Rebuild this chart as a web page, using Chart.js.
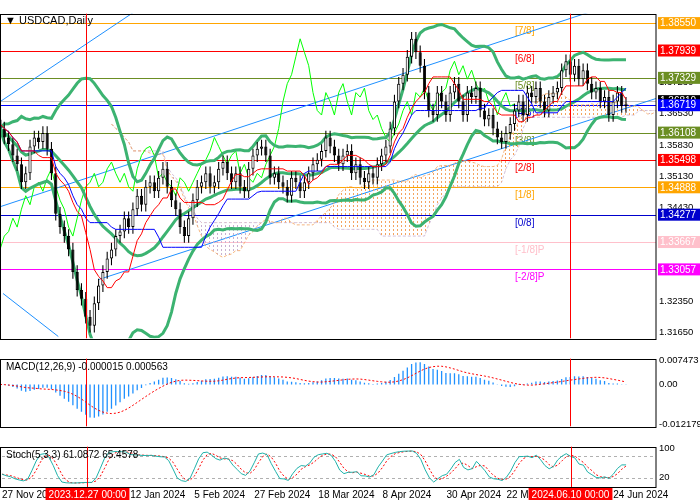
<!DOCTYPE html>
<html><head><meta charset="utf-8">
<script src="https://cdn.jsdelivr.net/npm/chart.js@4"></script>
<style>
body{margin:0;background:#fff;width:700px;height:500px;overflow:hidden;font-family:"Liberation Sans",Arial,sans-serif}
.p{position:absolute;left:0;width:700px}
</style></head><body>
<div class="p" style="top:5px;height:342px"><canvas id="main"></canvas></div>
<div class="p" style="top:350px;height:85px"><canvas id="macd"></canvas></div>
<div class="p" style="top:438px;height:62px"><canvas id="stoch"></canvas></div>
<script>
const closes=[1.3620,1.3600,1.3585,1.3560,1.3540,1.3500,1.3520,1.3580,1.3600,1.3590,
1.3610,1.3575,1.3520,1.3430,1.3400,1.3380,1.3350,1.3300,1.3260,1.3240,
1.3200,1.3180,1.3230,1.3270,1.3300,1.3330,1.3350,1.3380,1.3390,1.3420,
1.3400,1.3440,1.3470,1.3450,1.3490,1.3500,1.3480,1.3510,1.3530,1.3490,
1.3460,1.3440,1.3400,1.3380,1.3420,1.3460,1.3490,1.3500,1.3520,1.3490,
1.3500,1.3530,1.3545,1.3520,1.3500,1.3520,1.3490,1.3480,1.3530,1.3560,
1.3575,1.3580,1.3560,1.3510,1.3520,1.3500,1.3490,1.3470,1.3510,1.3500,
1.3480,1.3500,1.3520,1.3540,1.3550,1.3570,1.3600,1.3580,1.3560,1.3540,
1.3560,1.3570,1.3520,1.3540,1.3510,1.3500,1.3520,1.3510,1.3540,1.3560,
1.3580,1.3620,1.3680,1.3720,1.3740,1.3780,1.3820,1.3790,1.3760,1.3700,
1.3660,1.3650,1.3700,1.3680,1.3650,1.3700,1.3720,1.3680,1.3650,1.3700,
1.3690,1.3710,1.3660,1.3640,1.3650,1.3620,1.3600,1.3590,1.3610,1.3630,
1.3660,1.3680,1.3650,1.3700,1.3690,1.3710,1.3680,1.3660,1.3690,1.3700,
1.3710,1.3750,1.3770,1.3740,1.3760,1.3730,1.3750,1.3720,1.3700,1.3710,
1.3680,1.3690,1.3650,1.3680,1.3700,1.3670,1.3675];
const firstOpen=1.3640;
const wickPad=0.0015;
const totalSlots=154;
const levels=[1.38550,1.37939,1.37329,1.36719,1.36108,1.35498,1.34888,1.34277,1.33667,1.33057];
const levelNames=['[7/8]','[6/8]','[5/8]','[4/8]','[3/8]','[2/8]','[1/8]','[0/8]','[-1/8]P','[-2/8]P'];
const levelColors=['#FFA500','#FF0000','#6B8E23','#0000FF','#6B8E23','#FF0000','#FFA500','#0000CD','#FFC0CB','#FF00FF'];
const currentPrice=1.36810;
const priceTicks=[1.3165,1.3235,1.3443,1.3513,1.3583,1.3653,1.3723];
const trendLines=[[0.2,1.3681,31.3,1.3880],[0.2,1.3446,137.6,1.3880],[23,1.3283,154,1.3690],[0.7,1.3252,13.6,1.3156]];
const vLines=[20,133];
const tickIdx=[0,30,45,59,74,89,104,118,143];
const tickText=['27 Nov 2023','12 Jan 2024','5 Feb 2024','27 Feb 2024','18 Mar 2024','8 Apr 2024','30 Apr 2024','22 May 2024','24 Jun 2024'];
const hlIdx=[20,133];
const hlText=['2023.12.27 00:00','2024.06.10 00:00'];
const macdRange=[-0.012179,0.007473];

const N=closes.length;
const opens=closes.map((c,i)=>i?closes[i-1]:firstOpen);
const highs=closes.map((c,i)=>Math.max(c,opens[i])+wickPad);
const lows=closes.map((c,i)=>Math.min(c,opens[i])-wickPad);
const labels=Array.from({length:totalSlots},(_,i)=>String(i));
function hh(a,i,n){let m=-1e9;for(let k=Math.max(0,i-n+1);k<=i;k++)m=Math.max(m,a[k]);return m}
function ll(a,i,n){let m=1e9;for(let k=Math.max(0,i-n+1);k<=i;k++)m=Math.min(m,a[k]);return m}
function sma(a,n){return a.map((v,i)=>{if(v==null)return null;let s=0,c=0;for(let k=Math.max(0,i-n+1);k<=i;k++){if(a[k]!=null){s+=a[k];c++}}return s/c})}
function ema(a,n){const k=2/(n+1);let e=a[0];return a.map(v=>e=e+(v-e)*k)}
const mid=sma(closes,20);
const sd=closes.map((v,i)=>{const s=Math.max(0,i-19);const sl=closes.slice(s,i+1);const m=mid[i];return Math.sqrt(sl.reduce((a,b)=>a+(b-m)**2,0)/sl.length)});
const bbU=mid.map((m,i)=>m+2*sd[i]),bbL=mid.map((m,i)=>m-2*sd[i]);
const tenkan=closes.map((c,i)=>(hh(highs,i,9)+ll(lows,i,9))/2);
const kijun=closes.map((c,i)=>(hh(highs,i,26)+ll(lows,i,26))/2);
const spanA=new Array(totalSlots).fill(null),spanB=new Array(totalSlots).fill(null);
for(let i=0;i<N;i++){if(i+26<totalSlots){spanA[i+26]=(tenkan[i]+kijun[i])/2;spanB[i+26]=(hh(highs,i,52)+ll(lows,i,52))/2}}
const chikou=new Array(totalSlots).fill(null);for(let i=26;i<N;i++)chikou[i-26]=closes[i];
const e12=ema(closes,12),e26=ema(closes,26);
const macd=closes.map((c,i)=>e12[i]-e26[i]);const sig=sma(macd,9);
const kRaw=closes.map((c,i)=>{const H=hh(highs,i,5),L=ll(lows,i,5);return (c-L)/(H-L)*100});
const kS=sma(kRaw,3),dS=sma(kS,3);

function pattern(col){const c=document.createElement('canvas');c.width=4;c.height=4;const x=c.getContext('2d');x.fillStyle=col;x.fillRect(1,0,1,2);return x.createPattern(c,'repeat')}
const FONT='"Liberation Sans",Arial,sans-serif';
Chart.defaults.font.family=FONT;Chart.defaults.font.size=10;Chart.defaults.color='#000';
Chart.defaults.animation=false;
const AXW=44;
function xScale(show){return {type:'category',offset:false,min:0,max:totalSlots-1,display:show,grid:{display:false,drawTicks:false},
 afterFit:s=>{if(show)s.height=13},
 ticks:{autoSkip:false,maxRotation:0,align:'start',padding:2,font:{size:10},callback:(v,i)=>{const k=tickIdx.indexOf(i);return k>=0?tickText[k]:''}},border:{display:false}}}
function yScale(min,max,tickVals,fmt){return {position:'right',min,max,grid:{display:false,drawTicks:false},border:{display:false},
 afterFit:s=>{s.width=AXW},afterBuildTicks:s=>{s.ticks=tickVals.map(v=>({value:v}))},
 ticks:{font:{size:9.5},padding:3,callback:fmt}}}
const frame={id:'frame',afterDraw(ch){const a=ch.chartArea,c=ch.ctx;c.save();c.strokeStyle='#000';c.lineWidth=1;
 c.strokeRect(0.5,Math.round(a.top)+0.5,Math.round(a.right)-0.5,Math.round(a.bottom-a.top));
 c.strokeStyle='#ff0000';vLines.forEach(v=>{const x=Math.round(ch.scales.x.getPixelForValue(v))+0.5;c.beginPath();c.moveTo(x,a.top);c.lineTo(x,a.bottom);c.stroke()});c.restore()}};

const mainPlug={id:'mp',beforeDatasetsDraw(ch){const a=ch.chartArea,c=ch.ctx,y=ch.scales.y,x=ch.scales.x;c.save();c.lineWidth=1;
 c.strokeStyle='#c0c0c0';let py=Math.round(y.getPixelForValue(currentPrice))+0.5;c.beginPath();c.moveTo(a.left,py);c.lineTo(a.right,py);c.stroke();
 levels.forEach((l,i)=>{const p=Math.round(y.getPixelForValue(l))+0.5;c.strokeStyle=levelColors[i];c.beginPath();c.moveTo(a.left,p);c.lineTo(a.right,p);c.stroke();
  c.fillStyle=levelColors[i];c.font='10px '+FONT;c.textBaseline='top';c.fillText(levelNames[i],515,p+3)});
 c.beginPath();c.rect(a.left,a.top,a.right-a.left,a.bottom-a.top);c.clip();
 c.strokeStyle='#1E90FF';trendLines.forEach(t=>{c.beginPath();c.moveTo(x.getPixelForValue(t[0]),y.getPixelForValue(t[1]));c.lineTo(x.getPixelForValue(t[2]),y.getPixelForValue(t[3]));c.stroke()});
 c.restore()},
 afterDraw(ch){const c=ch.ctx,y=ch.scales.y,a=ch.chartArea;c.save();c.font='10px '+FONT;c.textBaseline='middle';
  const box=(v,bg,fg)=>{const p=y.getPixelForValue(v);c.fillStyle=bg;c.fillRect(a.right+2,p-6,AXW-2,12);c.fillStyle=fg;c.fillText(v.toFixed(5),a.right+4,p+0.5)};
  box(currentPrice,'#000','#fff');
  levels.forEach((l,i)=>box(l,levelColors[i],'#fff'));
  c.fillStyle='#000';c.font='11px '+FONT;c.fillText('\u25BC USDCAD,Daily',5,a.top+7);c.restore()}};

const candleCol=closes.map((c,i)=>c>=opens[i]?'#ffffff':'#000000');
new Chart(document.getElementById('main'),{data:{labels,datasets:[
 {type:'line',data:spanA,borderColor:'rgba(244,164,96,0.8)',borderWidth:1,borderDash:[3,2],pointRadius:0,fill:{target:'+1',above:pattern('#F4A460'),below:pattern('#C8B0D0')},order:10},
 {type:'line',data:spanB,borderColor:'rgba(200,176,208,0.8)',borderWidth:1,borderDash:[3,2],pointRadius:0,order:10},
 {type:'line',data:chikou,borderColor:'#00FF00',borderWidth:1,pointRadius:0,order:7},
 {type:'line',data:bbU,borderColor:'#3CB371',borderWidth:3,pointRadius:0,order:6},
 {type:'line',data:bbL,borderColor:'#3CB371',borderWidth:3,pointRadius:0,order:6},
 {type:'line',data:mid,borderColor:'#3CB371',borderWidth:3,pointRadius:0,order:6},
 {type:'bar',data:closes.map((c,i)=>[lows[i],highs[i]]),backgroundColor:'#000',barPercentage:0.25,categoryPercentage:1,grouped:false,order:4},
 {type:'bar',data:closes.map((c,i)=>[opens[i],c]),backgroundColor:candleCol,borderColor:'#000',borderWidth:1,borderSkipped:false,barPercentage:0.75,categoryPercentage:1,grouped:false,order:3,minBarLength:1},
 {type:'line',data:tenkan,borderColor:'#FF0000',borderWidth:1,pointRadius:0,order:2},
 {type:'line',data:kijun,borderColor:'#0000FF',borderWidth:1,pointRadius:0,order:2}
]},options:{responsive:true,maintainAspectRatio:false,layout:{padding:0},plugins:{legend:{display:false},tooltip:{enabled:false}},
 scales:{x:xScale(false),y:yScale(1.3152,1.3876,priceTicks,v=>v.toFixed(5))}},plugins:[mainPlug,frame]});

const txtPlug=t=>({id:'t',afterDraw(ch){const c=ch.ctx;c.save();c.font='10px '+FONT;c.fillStyle='#000';c.textBaseline='top';c.fillText(t,6,ch.chartArea.top+4);c.restore()}});
new Chart(document.getElementById('macd'),{data:{labels,datasets:[
 {type:'line',data:sig,borderColor:'#FF0000',borderWidth:1,borderDash:[2,2],pointRadius:0,order:1},
 {type:'bar',data:macd,backgroundColor:'#1E90FF',barPercentage:0.3,categoryPercentage:1,order:2}
]},options:{responsive:true,maintainAspectRatio:false,layout:{padding:0},plugins:{legend:{display:false},tooltip:{enabled:false}},
 scales:{x:xScale(false),y:yScale(macdRange[0]*1.05,macdRange[1]*1.05,[macdRange[1],0,macdRange[0]],v=>v===0?'0.00':String(v))}},plugins:[frame,txtPlug('MACD(12,26,9) -0.000015 0.000563')]});

const stochPlug={id:'sp',beforeDatasetsDraw(ch){const a=ch.chartArea,c=ch.ctx,y=ch.scales.y;c.save();c.strokeStyle='#b0b0b0';c.setLineDash([3,3]);
 [20,80].forEach(v=>{const p=Math.round(y.getPixelForValue(v))+0.5;c.beginPath();c.moveTo(a.left,p);c.lineTo(a.right,p);c.stroke()});c.restore()},
 afterDraw(ch){const c=ch.ctx,x=ch.scales.x,a=ch.chartArea;c.save();c.font='10px '+FONT;c.textBaseline='top';
  hlIdx.forEach((i,k)=>{const px=x.getPixelForValue(i);const w=c.measureText(hlText[k]).width+6;c.fillStyle='#FF0000';c.fillRect(px-w/2,a.bottom+1,w,13);c.fillStyle='#fff';c.fillText(hlText[k],px-w/2+3,a.bottom+3)});c.restore()}};
new Chart(document.getElementById('stoch'),{data:{labels,datasets:[
 {type:'line',data:kS,borderColor:'#20B2AA',borderWidth:1,pointRadius:0},
 {type:'line',data:dS,borderColor:'#FF0000',borderWidth:1,borderDash:[2,2],pointRadius:0}
]},options:{responsive:true,maintainAspectRatio:false,layout:{padding:0},plugins:{legend:{display:false},tooltip:{enabled:false}},
 scales:{x:xScale(true),y:yScale(-5,105,[100,80,20,0],v=>String(v))}},plugins:[stochPlug,frame,txtPlug('Stoch(5,3,3) 61.0872 65.4578')]});
</script></body></html>
